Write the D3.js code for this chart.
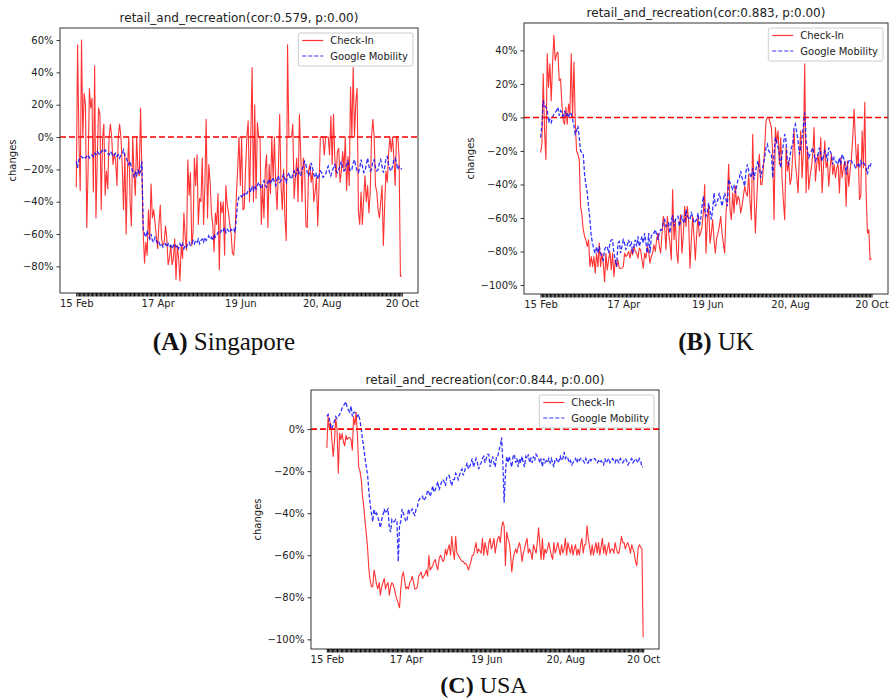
<!DOCTYPE html>
<html>
<head>
<meta charset="utf-8">
<script src="https://cdn.jsdelivr.net/npm/d3@7"></script>
<style>
  body { margin: 0; background: #fff; }
  text { font-family: "DejaVu Sans", sans-serif; fill: #222; }
  .cap { font-family: "Liberation Serif", "Times New Roman", serif; fill: #111; }
</style>
</head>
<body>
<svg id="fig" width="891" height="700"></svg>
<script>
// daily dates, 15 Feb -> 20 Oct 2020
const startDate = new Date(2020, 1, 15);
const endDate = new Date(2020, 9, 20);
const days = d3.timeDay.range(startDate, d3.timeDay.offset(endDate, 1));

const labelDates = [new Date(2020, 1, 15), new Date(2020, 3, 17), new Date(2020, 5, 19), new Date(2020, 7, 20), new Date(2020, 9, 20)];
const xTickLabels = ["15 Feb", "17 Apr", "19 Jun", "20, Aug", "20 Oct"];

const sgYTicks = [60, 40, 20, 0, -20, -40, -60, -80];
const ukYTicks = [40, 20, 0, -20, -40, -60, -80, -100];
const usYTicks = [0, -20, -40, -60, -80, -100];

// Singapore
const sgCheckin = [
  -31, 57, 0, -33, 60, 0, 27, 20, -56, -20,
  30, 18, 24, -34, 44, -50, -13, 18, 14, -45,
  -1, 8, -36, -21, -32, 0, 8, 0, -17, -10,
  -15, -30, 0, 8, 0, -17, -45, -10, -60, -20,
  0, -40, -55, 0, -22, -36, 0, -20, -24, 18,
  -21, -59, -78, -65, -73, -45, -63, -29, -50, -45,
  -53, -61, -69, -54, -42, -63, -67, -65, -55, -63,
  -79, -75, -67, -79, -75, -63, -88, -67, -75, -89,
  -67, -75, -47, -62, -70, -14, -36, -22, -67, -59,
  -13, -30, -11, -54, -38, -40, -13, -54, -30, 11,
  -50, -17, -28, -47, -54, -71, -47, -54, -35, -82,
  -40, -47, -40, -73, -30, -42, -47, -54, -60, -72,
  -73, -60, -36, -20, 0, -30, 0, -45, -44, -20,
  0, 10, -40, 0, 43, -40, 20, -38, 9, 0,
  0, -54, -30, -50, -20, -11, -56, -17, -35, 0,
  -26, 0, -30, -45, -20, 14, -30, -45, -20, -50,
  -64, 57, 0, 0, 0, 8, -38, -25, -13, -40,
  14, -9, -40, -13, -20, -55, -56, -21, -17, -28,
  -21, -40, -34, -25, -55, -30, 0, 0, 0, -11,
  0, 0, 0, -11, 13, -17, 14, -13, -25, -9,
  -7, -28, -21, -9, -20, 0, -33, -12, -30, 31,
  0, 43, 0, 22, 30, -46, -54, -34, -54, -38,
  -24, -40, -30, -47, -34, 0, 11, 0, -30, -34,
  -45, -50, -40, -30, -67, -42, -21, -28, -10, 0,
  -9, 0, -13, -30, 0, 0, -13, -86, -86
];
const sgGoogle = [
  -15, -19, -14, -13, -12, -13, -12, -13, -12, -11,
  -13, -12, -11, -12, -10, -11, -9, -10, -11, -9,
  -8, -9, -8, -9, -10, -11, -9, -10, -12, -11,
  -10, -12, -11, -13, -11, -10, -8, -12, -13, -15,
  -17, -15, -19, -21, -25, -22, -24, -20, -23, -21,
  -15, -57, -60, -62, -58, -61, -63, -60, -64, -65,
  -62, -64, -66, -65, -67, -66, -68, -67, -66, -68,
  -66, -68, -67, -69, -67, -66, -68, -67, -69, -66,
  -68, -66, -69, -67, -68, -66, -65, -67, -66, -64,
  -66, -64, -65, -63, -66, -64, -63, -65, -62, -64,
  -63, -61, -63, -62, -64, -60, -62, -61, -59, -58,
  -59, -57, -58, -56, -59, -57, -58, -59, -57, -58,
  -57, -59, -50, -40, -37, -36, -37, -35, -36, -34,
  -35, -33, -32, -34, -31, -33, -30, -32, -30, -28,
  -30, -32, -29, -27, -30, -31, -28, -26, -29, -27,
  -25, -28, -30, -26, -24, -28, -27, -25, -23, -26,
  -28, -24, -22, -25, -26, -23, -21, -24, -22, -19,
  -23, -24, -20, -18, -15, -17, -22, -24, -22, -16,
  -19, -23, -25, -22, -26, -24, -21, -22, -25, -24,
  -23, -20, -18, -22, -24, -21, -19, -17, -21, -22,
  -20, -18, -15, -19, -21, -20, -17, -15, -19, -21,
  -20, -16, -14, -18, -21, -22, -19, -14, -18, -22,
  -21, -17, -13, -18, -21, -20, -15, -14, -19, -21,
  -20, -16, -14, -18, -22, -19, -13, -12, -17, -20,
  -21, -18, -14, -13, -16, -20, -18, -19, -20
];

// UK
const ukCheckin = [
  -21, -16, 26, -8, -25, 38, 18, 32, 10, 32,
  49, 34, 38, 39, 22, 23, 8, -2, -4, 6,
  -4, 8, 2, 38, 0, 33, -2, -20, -22, -25,
  -53, -58, -67, -71, -73, -77, -73, -89, -83, -89,
  -83, -93, -81, -89, -75, -89, -81, -87, -98, -81,
  -91, -85, -80, -91, -81, -95, -85, -89, -85, -90,
  -90, -90, -89, -81, -83, -82, -80, -84, -79, -82,
  -77, -80, -81, -84, -78, -79, -85, -90, -81, -84,
  -77, -80, -87, -83, -81, -76, -80, -73, -69, -77,
  -81, -70, -59, -65, -79, -59, -69, -75, -85, -43,
  -73, -61, -80, -87, -65, -58, -81, -70, -53, -65,
  -53, -62, -90, -73, -59, -71, -85, -70, -59, -71,
  -69, -65, -57, -40, -81, -61, -53, -75, -69, -61,
  -73, -81, -72, -69, -65, -59, -69, -75, -81, -57,
  -47, -28, -55, -61, -45, -57, -41, -52, -47, -49,
  -57, -53, -47, -41, -45, -47, -34, -50, -61, -10,
  -45, -69, -50, -32, -22, -40, -40, -30, -18, -2,
  0, 0, -3, -6, -22, -61, -6, -15, -8, -28,
  -12, -36, -50, -61, -18, -32, -26, -40, -36, -22,
  -8, -28, -35, -45, -22, -8, -36, -20, 32, -45,
  -18, -43, -35, -30, -22, -6, -38, -28, -22, -32,
  -12, -45, -30, -14, -30, -26, -41, -30, -22, -34,
  -28, -36, -30, -28, -45, -24, -36, -30, -26, -53,
  -26, -41, -32, -24, -12, 5, -14, -30, -16, -49,
  -47, -8, -30, 9, -45, -69, -67, -85, -84
];
const ukGoogle = [
  -12, -5, 10, 7, 6, 5, -3, -1, -3, 0,
  2, 3, 4, 6, 1, 4, 3, -1, 4, 1,
  2, 0, 3, 2, -1, -5, -10, -8, -5, -12,
  -20, -21, -22, -34, -40, -45, -53, -61, -71, -75,
  -79, -81, -77, -81, -77, -81, -83, -85, -79, -77,
  -77, -81, -75, -73, -73, -81, -85, -89, -75, -74,
  -81, -77, -73, -75, -79, -76, -73, -77, -74, -81,
  -77, -73, -77, -71, -77, -74, -71, -75, -69, -75,
  -81, -69, -81, -71, -69, -69, -67, -70, -73, -69,
  -67, -67, -63, -61, -65, -64, -63, -69, -61, -59,
  -65, -61, -60, -59, -65, -61, -59, -62, -63, -55,
  -59, -60, -61, -57, -59, -63, -62, -61, -57, -65,
  -61, -53, -47, -55, -59, -57, -51, -56, -61, -55,
  -45, -53, -51, -49, -45, -49, -53, -49, -45, -49,
  -53, -37, -39, -41, -43, -41, -45, -41, -37, -36,
  -32, -36, -38, -41, -32, -28, -32, -34, -36, -30,
  -37, -32, -29, -26, -30, -36, -32, -28, -24, -18,
  -16, -20, -21, -22, -36, -22, -12, -15, -18, -22,
  -30, -22, -16, -10, -14, -26, -28, -23, -18, -16,
  -6, -4, -9, -14, -22, -18, -12, -5, 3, -14,
  -20, -24, -22, -20, -18, -22, -26, -24, -22, -18,
  -22, -26, -23, -20, -22, -26, -18, -20, -22, -28,
  -24, -26, -27, -28, -24, -28, -22, -24, -26, -34,
  -28, -26, -25, -26, -28, -28, -30, -29, -28, -30,
  -26, -28, -27, -28, -30, -34, -28, -29, -27
];

// USA
const usCheckin = [
  -9, 6, 0, 3, -5, -13, -6, 5, 0, -21,
  -2, -5, -2, -6, -8, -3, -5, -4, -4, -5,
  -10, 6, 2, 8, -3, -18, -20, -24, -32, -37,
  -44, -50, -57, -67, -72, -75, -75, -67, -70, -74,
  -76, -73, -79, -75, -73, -71, -76, -74, -73, -79,
  -75, -73, -74, -76, -79, -81, -83, -85, -76, -70,
  -68, -72, -76, -75, -76, -73, -72, -70, -73, -76,
  -76, -75, -70, -69, -68, -71, -70, -69, -67, -70,
  -60, -67, -66, -65, -63, -62, -65, -67, -62, -60,
  -61, -63, -62, -57, -60, -57, -55, -60, -51, -58,
  -62, -51, -59, -60, -61, -62, -63, -63, -64, -64,
  -65, -67, -65, -63, -60, -60, -57, -54, -59, -57,
  -58, -59, -52, -60, -54, -57, -60, -54, -52, -57,
  -55, -52, -59, -55, -52, -51, -54, -47, -44, -46,
  -65, -49, -52, -54, -59, -68, -62, -59, -57, -59,
  -56, -54, -57, -63, -59, -57, -54, -52, -59, -57,
  -59, -62, -55, -57, -59, -54, -47, -55, -62, -52,
  -62, -57, -59, -57, -54, -57, -60, -62, -54, -59,
  -57, -54, -57, -60, -55, -59, -57, -52, -60, -54,
  -57, -59, -55, -60, -57, -55, -60, -57, -60, -55,
  -52, -59, -55, -55, -46, -52, -56, -60, -55, -60,
  -57, -54, -59, -54, -60, -56, -52, -59, -55, -60,
  -57, -54, -59, -57, -57, -59, -54, -57, -59, -59,
  -55, -51, -54, -54, -57, -55, -54, -56, -59, -55,
  -57, -59, -63, -65, -57, -55, -56, -57, -99
];
const usGoogle = [
  6, 7, 5, 1, 0, 2, 4, 6, 5, 6,
  7, 8, 10, 11, 12, 13, 10, 9, 8, 11,
  6, 8, 8, 7, 6, 7, 4, 0, -5, -9,
  -14, -18, -22, -30, -36, -40, -44, -38, -41, -40,
  -42, -44, -47, -43, -41, -38, -40, -39, -38, -47,
  -49, -43, -44, -44, -43, -44, -63, -46, -44, -38,
  -40, -42, -44, -43, -38, -40, -39, -38, -40, -41,
  -38, -37, -34, -33, -33, -32, -34, -33, -32, -29,
  -30, -32, -30, -27, -30, -29, -27, -25, -29, -27,
  -25, -24, -25, -27, -23, -22, -22, -25, -27, -24,
  -24, -21, -22, -24, -22, -20, -19, -22, -20, -18,
  -16, -19, -18, -16, -14, -18, -16, -14, -16, -19,
  -17, -16, -14, -13, -16, -14, -12, -12, -18, -15,
  -13, -16, -18, -13, -13, -10, -8, -4, -16, -35,
  -21, -13, -16, -13, -16, -18, -13, -12, -16, -14,
  -18, -14, -16, -13, -16, -18, -13, -14, -12, -16,
  -14, -16, -13, -15, -12, -13, -14, -16, -14, -18,
  -14, -16, -15, -16, -14, -16, -14, -16, -18, -14,
  -14, -16, -15, -13, -15, -14, -11, -14, -13, -14,
  -16, -15, -17, -16, -15, -14, -16, -14, -15, -14,
  -15, -15, -16, -14, -16, -16, -14, -15, -14, -14,
  -14, -15, -16, -15, -16, -15, -16, -17, -14, -16,
  -15, -14, -16, -15, -14, -15, -16, -14, -15, -16,
  -14, -15, -16, -15, -14, -15, -17, -16, -15, -14,
  -16, -15, -14, -15, -16, -14, -15, -18, -18
];

const legendNames = ["Check-In", "Google Mobility"];

// layout of the three panels
const panels = [
  {title: "retail_and_recreation(cor:0.579, p:0.00)", checkin: sgCheckin, google: sgGoogle, yTicks: sgYTicks,
   x0: 60, x1: 418, y0: 28, y1: 293, letter: "(A)", name: "Singapore", capX: 224, capY: 350, capSize: 25},
  {title: "retail_and_recreation(cor:0.883, p:0.00)", checkin: ukCheckin, google: ukGoogle, yTicks: ukYTicks,
   x0: 524, x1: 888, y0: 23, y1: 294, letter: "(B)", name: "UK", capX: 716, capY: 350, capSize: 25},
  {title: "retail_and_recreation(cor:0.844, p:0.00)", checkin: usCheckin, google: usGoogle, yTicks: usYTicks,
   x0: 311, x1: 659, y0: 390, y1: 649, letter: "(C)", name: "USA", capX: 484, capY: 693, capSize: 24}
];

const svg = d3.select("#fig");
svg.append("rect").attr("width", 891).attr("height", 700).attr("fill", "#fff");

const pct = d => (d < 0 ? "\u2212" + Math.abs(d) : d) + "%";

panels.forEach(p => {
  const g = svg.append("g");

  // matplotlib style 5% margins
  const xPad = (endDate - startDate) * 0.05;
  const x = d3.scaleTime()
    .domain([new Date(+startDate - xPad), new Date(+endDate + xPad)])
    .range([p.x0, p.x1]);

  const lo = d3.min(p.checkin.concat(p.google)), hi = d3.max(p.checkin.concat(p.google));
  const yPad = (hi - lo) * 0.05;
  const y = d3.scaleLinear()
    .domain([lo - yPad, hi + yPad])
    .range([p.y1, p.y0]);

  const line = d3.line()
    .x((d, i) => x(days[i]))
    .y(d => y(d));

  g.append("path")
    .datum(p.checkin)
    .attr("d", line)
    .attr("fill", "none")
    .attr("stroke", "red")
    .attr("stroke-opacity", 0.8)
    .attr("stroke-width", 1.1)
    .attr("stroke-linejoin", "round");

  g.append("path")
    .datum(p.google)
    .attr("d", line)
    .attr("fill", "none")
    .attr("stroke", "blue")
    .attr("stroke-opacity", 0.8)
    .attr("stroke-width", 1.3)
    .attr("stroke-dasharray", "4,2");

  // zero reference line
  g.append("line")
    .attr("x1", p.x0).attr("x2", p.x1)
    .attr("y1", y(0)).attr("y2", y(0))
    .attr("stroke", "red")
    .attr("stroke-width", 1.6)
    .attr("stroke-dasharray", "6,3");

  // frame
  g.append("rect")
    .attr("x", p.x0).attr("y", p.y0)
    .attr("width", p.x1 - p.x0).attr("height", p.y1 - p.y0)
    .attr("fill", "none")
    .attr("stroke", "#333")
    .attr("stroke-width", 1);

  // x axis: a tick for every day, labels on five dates
  const xAxis = d3.axisBottom(x)
    .tickValues(days)
    .tickSize(3.5)
    .tickFormat(d => {
      const k = labelDates.findIndex(l => +l === +d);
      return k < 0 ? "" : xTickLabels[k];
    });
  const gx = g.append("g")
    .attr("transform", `translate(0,${p.y1})`)
    .call(xAxis);
  gx.select(".domain").remove();
  gx.selectAll(".tick line").attr("stroke", "#000").attr("stroke-width", 1);
  gx.selectAll(".tick text").attr("font-size", 10).attr("font-family", "DejaVu Sans").attr("fill", "#222");

  const yAxis = d3.axisLeft(y)
    .tickValues(p.yTicks)
    .tickSize(3.5)
    .tickFormat(pct);
  const gy = g.append("g")
    .attr("transform", `translate(${p.x0},0)`)
    .call(yAxis);
  gy.select(".domain").remove();
  gy.selectAll(".tick line").attr("stroke", "#222").attr("stroke-width", 0.9);
  gy.selectAll(".tick text").attr("font-size", 10).attr("font-family", "DejaVu Sans").attr("fill", "#222");

  let maxW = 0;
  gy.selectAll(".tick text").each(function() { maxW = Math.max(maxW, this.getComputedTextLength()); });

  // y label
  const ly = (p.y0 + p.y1) / 2, lx = p.x0 - 6.5 - maxW - 10;
  g.append("text")
    .attr("transform", `translate(${lx},${ly}) rotate(-90)`)
    .attr("text-anchor", "middle")
    .attr("dominant-baseline", "central")
    .attr("font-size", 10)
    .text("changes");

  // title
  g.append("text")
    .attr("x", (p.x0 + p.x1) / 2)
    .attr("y", p.y0 - 6)
    .attr("text-anchor", "middle")
    .attr("font-size", 12)
    .text(p.title);

  // legend
  const leg = g.append("g");
  const texts = legendNames.map((n, i) => leg.append("text")
    .attr("font-size", 10)
    .attr("dominant-baseline", "central")
    .text(n));
  const tw = d3.max(texts, t => t.node().getComputedTextLength());
  const lw = 32 + tw + 5, lh = 33;
  const left = p.x1 - 5 - lw, top = p.y0 + 5;
  leg.insert("rect", "text")
    .attr("x", left).attr("y", top)
    .attr("width", lw).attr("height", lh)
    .attr("rx", 2)
    .attr("fill", "#fff").attr("fill-opacity", 0.8)
    .attr("stroke", "#ccc").attr("stroke-width", 1);
  texts.forEach((t, i) => t.attr("x", left + 32).attr("y", top + 7.5 + i * 15.5));
  leg.append("line")
    .attr("x1", left + 4).attr("x2", left + 25)
    .attr("y1", top + 7.5).attr("y2", top + 7.5)
    .attr("stroke", "red").attr("stroke-opacity", 0.8).attr("stroke-width", 1.2);
  leg.append("line")
    .attr("x1", left + 4).attr("x2", left + 25)
    .attr("y1", top + 23).attr("y2", top + 23)
    .attr("stroke", "blue").attr("stroke-opacity", 0.8).attr("stroke-width", 1.2)
    .attr("stroke-dasharray", "4,2");

  // caption under the panel
  const cap = svg.append("text")
    .attr("class", "cap")
    .attr("x", p.capX).attr("y", p.capY)
    .attr("text-anchor", "middle")
    .attr("font-size", p.capSize);
  cap.append("tspan").attr("font-weight", "bold").text(p.letter);
  cap.append("tspan").text(" " + p.name);
});
</script>
</body>
</html>
